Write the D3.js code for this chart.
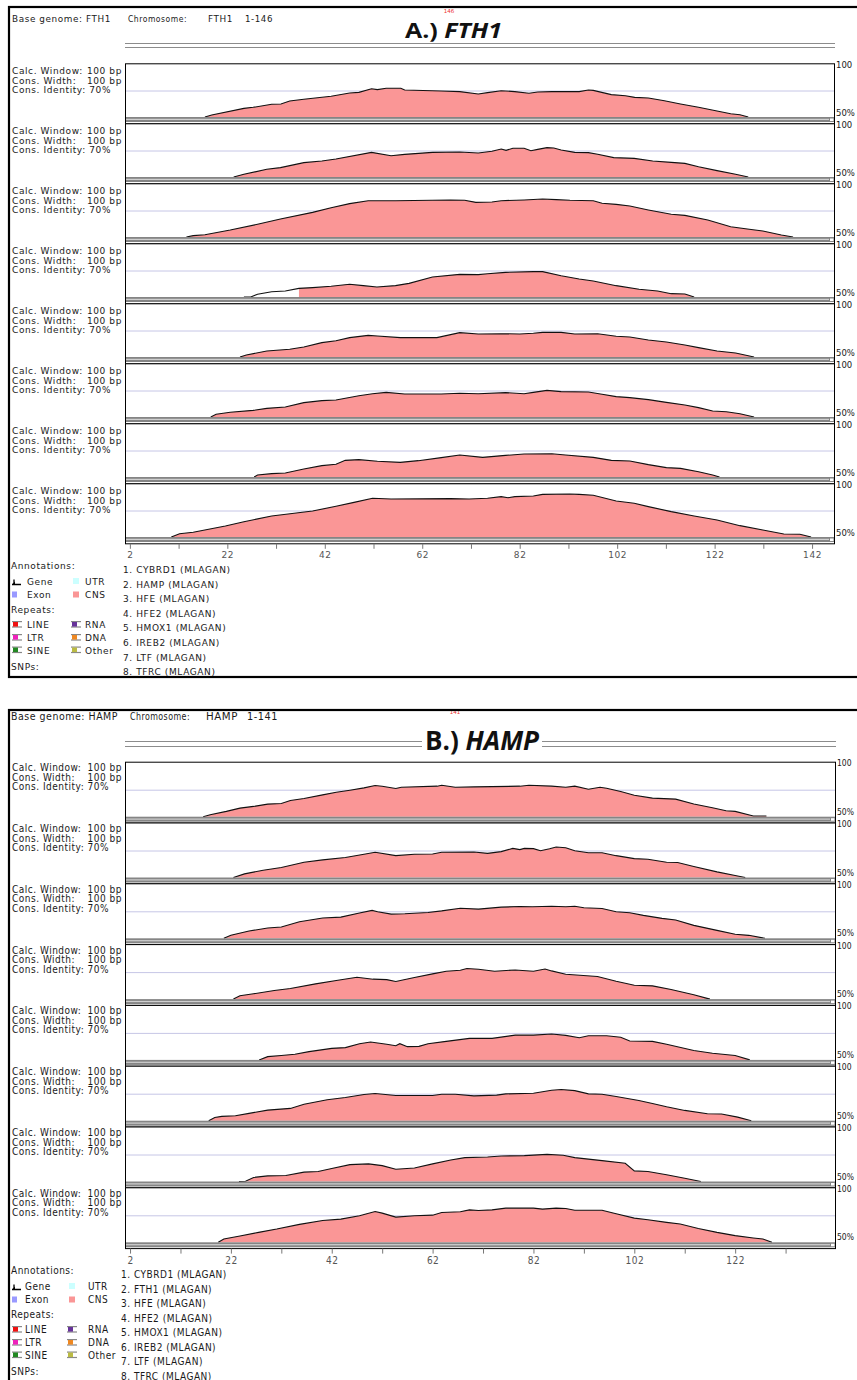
<!DOCTYPE html>
<html>
<head>
<meta charset="utf-8">
<script src="https://cdn.jsdelivr.net/npm/d3@7/dist/d3.min.js"></script>
<style>
  body { margin: 0; background: #fff; }
  svg { display: block; }
</style>
</head>
<body>
<svg id="chart" width="857" height="1380"></svg>
<script>
// ---------------------------------------------------------------
// VISTA conservation plots: percent identity (50–100 %) along the
// base sequence, one row per aligned gene (MLAGAN, 100 bp window).
// Each profile is a list of [position, % identity] pairs.
// ---------------------------------------------------------------

// ---- A.) FTH1 as base genome (1-146) ----
const fth1Partners = ["CYBRD1", "HAMP", "HFE", "HFE2", "HMOX1", "IREB2", "LTF", "TFRC"];

const fth1_CYBRD1 = [[17.4,50],[18.8,51.9],[25.4,58.3],[27.3,59.3],[31.1,62.2],[33.0,62.5],[34.8,65.4],[37.7,67.0],[43.3,69.9],[47.1,73.1],[49.0,73.7],[51.6,77.2],[52.8,76.3],[54.6,77.6],[57.6,77.6],[58.4,76.0],[65.9,75.0],[69.7,74.4],[73.5,72.1],[75.4,73.4],[78.2,75.3],[81.0,74.4],[83.9,72.8],[85.7,74.0],[88.6,74.4],[94.2,74.4],[96.1,76.0],[97.1,75.6],[100.8,71.5],[103.7,70.5],[105.6,68.9],[108.4,68.3],[111.7,65.7],[115.0,62.5],[118.7,59.3],[122.5,55.8],[125.3,53.2],[127.2,52.2],[128.9,50]];
const fth1_HAMP = [[23.3,50],[25.4,52.6],[30.1,57.4],[32.9,59.0],[37.7,63.8],[41.4,65.4],[44.3,67.3],[51.6,73.7],[55.6,70.5],[58.4,71.8],[64.1,73.7],[69.7,74.0],[73.5,73.1],[76.3,74.7],[78.2,76.9],[79.2,75.6],[80.6,77.6],[82.9,77.6],[84.3,75.3],[85.7,76.6],[87.6,78.2],[89.0,77.9],[90.5,76.0],[93.3,73.7],[96.1,73.4],[98.0,71.8],[101.3,68.6],[105.5,67.9],[109.3,65.4],[113.1,64.1],[115.9,63.1],[118.7,59.9],[122.5,56.1],[126.3,52.6],[128.9,50]];
const fth1_HFE = [[13.6,50],[15.0,51.3],[17.4,52.2],[22.6,56.7],[28.2,62.2],[32.9,67.3],[39.5,73.7],[43.3,78.2],[47.1,82.1],[50.9,84.9],[56.5,84.9],[67.8,85.6],[70.7,85.3],[73.0,83.3],[76.3,83.7],[78.2,84.9],[82.9,85.6],[86.7,86.5],[89.5,85.9],[92.3,85.3],[97.1,84.9],[98.9,82.4],[101.8,81.4],[104.6,79.8],[108.4,76.0],[113.1,71.8],[115.9,70.8],[120.6,66.3],[125.3,59.9],[129.1,57.4],[131.9,55.8],[135.7,51.9],[138.1,50]];
const fth1_HFE2 = [[25.4,50],[26.8,50],[28.2,52.6],[31.1,55.1],[33.9,55.8],[36.7,58.3],[39.5,59.0],[43.3,60.3],[47.1,62.2],[49.9,60.9],[52.7,59.6],[56.5,60.9],[59.3,63.1],[64.1,69.2],[69.7,71.8],[73.5,71.5],[75.4,72.4],[79.1,73.7],[84.8,74.4],[86.7,74.4],[90.5,70.5],[94.2,67.3],[97.1,65.4],[101.8,60.9],[106.5,57.4],[110.3,55.8],[113.1,53.2],[115.9,52.9],[117.8,50]];
const fth1_HMOX1 = [[24.6,50],[25.9,51.9],[30.1,55.8],[34.8,57.4],[37.7,59.6],[41.4,63.8],[44.3,65.7],[47.1,68.6],[50.9,70.8],[52.8,70.2],[57.5,68.6],[65.0,68.6],[69.7,73.4],[73.5,72.1],[78.2,72.4],[82.0,72.1],[84.8,72.8],[86.7,73.7],[90.5,73.7],[93.3,72.1],[98.0,72.4],[101.8,69.9],[104.6,69.2],[108.4,66.3],[112.1,64.4],[115.9,61.5],[118.7,59.0],[122.5,55.8],[126.3,53.8],[130.1,50]];
const fth1_IREB2 = [[18.6,50],[19.7,52.6],[22.6,54.5],[27.3,56.4],[30.1,58.3],[33.9,59.6],[37.7,63.8],[41.4,65.7],[44.3,66.3],[49.0,70.5],[51.8,72.4],[54.6,73.7],[58.4,72.1],[65.9,72.1],[69.7,72.8],[73.5,72.4],[79.1,73.4],[82.9,72.4],[84.8,73.7],[87.6,75.6],[90.5,74.4],[96.1,74.0],[98.9,71.8],[101.8,69.6],[104.6,68.6],[108.4,66.7],[112.1,64.1],[115.9,61.5],[118.7,59.0],[121.6,55.8],[124.4,55.1],[127.2,53.2],[130.1,50]];
const fth1_LTF = [[27.5,50],[28.2,51.9],[31.1,53.2],[33.9,53.8],[37.7,57.7],[41.4,60.9],[44.3,62.2],[46.2,66.0],[49.0,66.7],[52.8,65.1],[57.5,64.1],[61.2,65.7],[65.9,68.6],[69.7,71.2],[74.4,68.9],[79.1,70.8],[82.9,72.1],[88.6,72.4],[91.4,71.2],[97.1,68.9],[100.8,66.0],[104.6,65.4],[108.4,61.9],[112.1,59.0],[115.0,58.3],[118.7,55.1],[121.6,51.9],[123.0,50]];
const fth1_TFRC = [[10.5,50],[12.2,53.2],[15.0,54.5],[21.6,60.6],[25.4,64.7],[31.1,70.2],[39.5,75.0],[44.3,79.5],[48.0,83.3],[51.8,87.2],[55.6,86.5],[67.8,86.9],[71.6,86.5],[75.4,87.2],[78.2,88.8],[79.6,87.8],[81.0,88.8],[84.8,89.4],[86.7,91.0],[92.3,91.3],[94.2,91.0],[97.1,90.1],[101.8,84.6],[105.5,82.4],[108.4,79.2],[113.1,74.4],[117.8,70.2],[122.5,66.3],[127.2,60.9],[131.9,56.7],[136.2,52.9],[139.5,52.6],[141.8,50]];
// CNS shading begins at this position (null: shaded along the whole profile)
const fth1CnsFrom = [null, null, null, 36.7, null, null, null, null];

// ---- B.) HAMP as base genome (1-141) ----
const hampPartners = ["CYBRD1", "FTH1", "HFE", "HFE2", "HMOX1", "IREB2", "LTF", "TFRC"];

const hamp_CYBRD1 = [[16.5,50],[17.9,51.9],[21.1,55.0],[23.8,58.1],[26.5,59.7],[29.3,61.9],[32.0,62.5],[33.8,65.3],[36.5,67.2],[40.2,70.6],[42.9,73.1],[45.6,75.0],[48.4,77.2],[50.6,79.4],[52.0,78.8],[54.7,76.6],[55.8,77.8],[62.9,78.8],[63.8,79.7],[66.5,77.8],[70.2,78.1],[79.3,78.8],[81.1,79.7],[85.6,78.8],[88.4,77.8],[90.2,78.8],[92.9,75.9],[95.2,77.8],[96.5,76.9],[99.3,73.8],[102.0,70.3],[105.6,67.5],[110.2,66.6],[113.8,61.9],[117.5,58.4],[120.2,55.6],[122.0,55.0],[125.6,50.6],[128.2,50.6]];
const hamp_FTH1 = [[22.5,50],[24.7,53.4],[28.4,56.9],[32.0,59.4],[36.5,64.4],[40.2,66.6],[44.7,68.8],[48.4,71.9],[50.6,73.8],[54.7,70.6],[58.4,71.9],[62.0,72.2],[63.8,73.8],[70.2,74.1],[72.9,72.8],[75.6,74.4],[77.9,77.5],[79.3,76.3],[80.2,77.5],[82.0,77.2],[83.4,75.3],[85.2,77.2],[86.5,78.8],[88.4,78.1],[90.2,75.3],[92.9,73.4],[95.6,73.4],[98.4,70.6],[102.0,67.8],[104.7,67.2],[108.4,64.4],[110.6,64.1],[113.8,60.3],[118.4,55.3],[122.0,51.9],[124.0,50]];
const hamp_HFE = [[20.6,50],[22.0,52.8],[25.6,56.9],[29.3,59.7],[32.0,60.6],[35.6,65.6],[40.2,69.1],[43.8,70.0],[47.5,73.8],[50.0,76.3],[51.1,75.0],[53.8,72.8],[56.5,73.1],[61.1,74.4],[63.8,75.9],[67.5,78.4],[71.1,77.5],[75.6,79.4],[79.3,80.0],[81.8,79.7],[85.6,80.3],[88.4,79.7],[90.2,80.3],[92.0,78.8],[95.6,78.1],[98.4,75.0],[101.1,74.1],[103.8,71.6],[107.5,68.8],[110.2,67.2],[113.8,62.2],[118.4,57.5],[122.0,53.8],[124.7,52.8],[127.9,50]];
const hamp_HFE2 = [[22.5,50],[23.8,53.1],[26.5,55.0],[30.6,58.1],[33.8,60.0],[38.8,64.4],[42.9,67.5],[47.0,70.6],[50.2,68.8],[52.9,68.4],[54.7,66.6],[58.4,70.3],[62.0,73.8],[64.7,76.3],[67.5,77.2],[68.8,78.8],[71.1,78.1],[74.3,76.3],[78.4,77.5],[82.0,76.3],[84.3,78.4],[85.6,76.6],[88.4,73.4],[94.7,71.3],[98.4,66.9],[102.0,63.1],[105.6,62.5],[109.3,59.1],[113.8,54.1],[117.0,50]];
const hamp_HMOX1 = [[27.6,50],[29.3,53.1],[32.0,54.1],[34.7,55.3],[37.5,57.8],[42.0,60.9],[44.7,61.6],[47.5,65.3],[49.7,66.9],[52.9,64.7],[54.7,63.4],[55.5,65.3],[57.0,62.5],[59.3,62.8],[61.1,65.3],[64.7,67.5],[69.3,70.3],[73.8,70.3],[78.4,73.4],[82.0,73.4],[85.6,74.4],[88.4,73.1],[91.1,70.9],[92.9,72.8],[96.5,72.8],[99.3,71.3],[101.1,67.8],[105.6,67.5],[108.4,64.7],[113.8,58.8],[117.5,56.3],[122.0,54.1],[124.9,50]];
const hamp_IREB2 = [[17.6,50],[18.8,53.1],[20.2,54.1],[22.9,54.7],[25.6,56.9],[29.3,60.0],[33.8,61.6],[36.5,65.6],[41.1,69.7],[44.7,71.9],[48.4,74.7],[50.6,75.6],[54.7,73.8],[62.0,73.8],[63.8,75.0],[66.5,75.0],[70.2,73.4],[74.7,74.1],[76.5,75.3],[82.0,75.9],[85.6,78.8],[87.5,79.4],[90.2,78.4],[92.9,75.3],[95.6,75.0],[98.4,72.8],[102.9,69.1],[105.6,66.3],[108.4,63.1],[112.0,59.7],[116.5,56.6],[119.3,56.3],[122.5,53.4],[125.2,50]];
const hamp_LTF = [[23.6,50],[24.9,50.3],[26.5,53.8],[29.3,55.3],[32.9,55.6],[36.5,58.8],[39.3,59.4],[42.0,62.2],[45.6,65.9],[49.3,66.6],[52.0,65.0],[54.7,61.6],[58.4,62.8],[62.0,66.6],[65.6,70.3],[68.4,72.5],[72.9,73.1],[75.6,74.1],[80.2,74.4],[84.7,75.6],[87.9,74.7],[90.2,72.5],[95.6,69.7],[100.2,67.2],[102.0,60.0],[104.7,59.4],[108.4,56.3],[112.0,53.1],[115.2,50]];
const hamp_TFRC = [[19.5,50],[20.6,53.1],[23.8,55.9],[27.5,59.4],[31.1,62.5],[35.6,66.9],[40.2,70.6],[43.8,71.9],[47.5,75.0],[50.6,79.1],[52.0,77.5],[54.7,73.8],[58.4,75.0],[62.0,75.6],[63.8,78.1],[67.5,78.8],[69.3,80.6],[71.1,80.0],[73.8,80.6],[76.5,82.2],[82.0,82.2],[83.8,81.3],[86.5,82.2],[88.4,81.9],[90.2,80.3],[95.6,80.3],[98.4,76.9],[102.0,72.8],[104.7,71.3],[108.4,68.8],[111.1,67.2],[114.7,63.1],[118.4,59.4],[122.0,56.3],[125.6,54.1],[127.5,53.1],[129.3,50]];
const hampCnsFrom = [null, null, null, null, null, null, null, null];

// ---- position axes ----
const fth1Ticks = [2, 12, 22, 32, 42, 52, 62, 72, 82, 92, 102, 112, 122, 132, 142];
const fth1TickLabels = [2, 22, 42, 62, 82, 102, 122, 142];
const hampTicks = [2, 12, 22, 32, 42, 52, 62, 72, 82, 92, 102, 112, 122, 132];
const hampTickLabels = [2, 22, 42, 62, 82, 102, 122];

// ---- legend ----
const annotationKeys = [["Gene", "gene"], ["UTR", "#ccffff"], ["Exon", "#9999ff"], ["CNS", "#fa9696"]];
const repeatKeys = [["LINE", "#ee1111"], ["RNA", "#663399"], ["LTR", "#ee22bb"], ["DNA", "#ee8822"], ["SINE", "#228822"], ["Other", "#bbbb44"]];

// ---------------------------------------------------------------
const svg = d3.select("#chart");
const CNS_FILL = "#fa9696";

function drawPanel(o) {
  const g = svg.append("g");
  const left = 125, right = o.right;
  const x = d3.scaleLinear().domain(o.domain).range([left, right]);

  const txt = (parent, xx, yy, s, anchor) => parent.append("text")
    .attr("x", xx).attr("y", yy).text(s)
    .attr("text-anchor", anchor || "start")
    .attr("font-family", o.font).attr("font-size", o.fs)
    .style("letter-spacing", o.ls + "px")
    .attr("fill", "#1a1a1a");

  // header line
  o.header.forEach(([hx, s, w]) => txt(g, hx, o.headerY, s)
    .attr("textLength", w).attr("lengthAdjust", "spacingAndGlyphs"));

  // small red sequence-length marker
  g.append("text").attr("x", o.mark.x).attr("y", o.mark.y).attr("text-anchor", "middle")
    .attr("font-family", "'DejaVu Sans', sans-serif").attr("font-size", 5.5)
    .attr("fill", "#ee3333").text(o.mark.text);

  // double rule under the header
  o.rulesY.forEach(ry => g.append("line")
    .attr("x1", left).attr("x2", right + 1).attr("y1", ry).attr("y2", ry)
    .attr("stroke", "#8c8c8c").attr("stroke-width", 1.2));

  // panel title
  if (o.title.clear) {
    g.append("rect").attr("x", o.title.x - 3).attr("y", o.title.y - o.title.size * 0.74)
      .attr("width", o.title.w + 6).attr("height", o.title.size * 0.9).attr("fill", "#fff");
  }
  const t = g.append("text").attr("x", o.title.x).attr("y", o.title.y)
    .attr("font-family", "'Open Sans', 'Liberation Sans', sans-serif")
    .attr("font-weight", 700).attr("font-size", o.title.size)
    .attr("textLength", o.title.w).attr("lengthAdjust", "spacingAndGlyphs")
    .attr("fill", "#111");
  t.append("tspan").text(o.title.prefix);
  t.append("tspan").attr("font-style", "italic").text(o.title.gene);

  // conservation tracks
  o.profiles.forEach((prof, i) => {
    const top = o.trackTop + i * o.step;
    const y = d3.scaleLinear().domain([50, 100]).range([top + o.baseOff, top + o.fullOff]);
    const tg = g.append("g");

    tg.append("rect").attr("x", left + 0.5).attr("y", top + 0.5)
      .attr("width", right - left).attr("height", o.step)
      .attr("fill", "#fff").attr("stroke", "#000").attr("stroke-width", 1);

    // 75 % reference line
    tg.append("line").attr("x1", left + 1).attr("x2", right)
      .attr("y1", y(75)).attr("y2", y(75))
      .attr("stroke", "#c6c6e6").attr("stroke-width", 1);

    // shaded conserved region
    const clipId = o.id + "clip" + i;
    const from = o.cnsFrom[i];
    tg.append("clipPath").attr("id", clipId).append("rect")
      .attr("x", from == null ? left : x(from)).attr("y", top)
      .attr("width", right - (from == null ? left : x(from))).attr("height", o.step);

    const area = d3.area().x(d => x(d[0])).y0(y(50)).y1(d => y(d[1]));
    tg.append("path").datum(prof).attr("d", area)
      .attr("fill", CNS_FILL).attr("clip-path", `url(#${clipId})`);

    const line = d3.line().x(d => x(d[0])).y(d => y(d[1]));
    tg.append("path").datum(prof).attr("d", line)
      .attr("fill", "none").attr("stroke", "#111").attr("stroke-width", 1.1);

    // sequence bar at the bottom of the row
    const by = y(50);
    tg.append("rect").attr("x", left + 1).attr("y", by).attr("width", right - left - 1)
      .attr("height", 5).attr("fill", "#858585");
    tg.append("rect").attr("x", left + 1).attr("y", by + 1.8).attr("width", right - left - 6)
      .attr("height", 1.2).attr("fill", "#cfcfcf");
    tg.append("rect").attr("x", right - 4).attr("y", by + 1.5).attr("width", 3.5)
      .attr("height", 2.5).attr("fill", "#fff");

    // parameter labels
    txt(tg, 12, top + o.lab[0], "Calc. Window:");
    txt(tg, 122, top + o.lab[0], "100 bp", "end");
    txt(tg, 12, top + o.lab[1], "Cons. Width:");
    txt(tg, 122, top + o.lab[1], "100 bp", "end");
    txt(tg, 12, top + o.lab[2], "Cons. Identity: 70%");

    // identity scale labels
    txt(tg, right + 2, top + 4.5, "100").attr("font-size", 8.5).style("letter-spacing", "0px");
    txt(tg, right + 2, top + 53, "50%").attr("font-size", 8.5).style("letter-spacing", "0px");
  });

  // position axis
  const axisY = o.trackTop + o.profiles.length * o.step + 0.5;
  const axis = d3.axisBottom(x).tickValues(o.ticks).tickSize(5).tickPadding(3)
    .tickFormat(d => o.tickLabels.includes(d) ? d : "");
  const ag = g.append("g").attr("transform", `translate(0,${axisY})`).call(axis);
  ag.select(".domain").remove();
  ag.selectAll("line").attr("stroke", "#777");
  ag.selectAll("text").attr("font-family", o.font).attr("font-size", o.fs)
    .style("letter-spacing", o.ls + "px").attr("fill", "#555");

  // partner list
  o.partners.forEach((p, i) =>
    txt(g, o.listX, o.legendY + i * o.listGap, `${i + 1}. ${p} (MLAGAN)`));

  // legend
  const L = o.legendY, c1 = 12, c2 = o.col2;
  txt(g, 11, L - 4, "Annotations:");
  // gene glyph
  g.append("path")
    .attr("d", `M${c1},${L + 11.5} H${c1 + 9} M${c1 + 2},${L + 11.5} V${L + 6.5}`)
    .attr("stroke", "#000").attr("stroke-width", 1.3).attr("fill", "none");
  g.append("path").attr("d", `M${c1},${L + 11.5} L${c1 + 3},${L + 8.5} L${c1 + 3},${L + 11.5}Z`).attr("fill", "#000");
  txt(g, o.col1t, L + 12, annotationKeys[0][0]);
  g.append("rect").attr("x", c2).attr("y", L + 5).attr("width", 6).attr("height", 6).attr("fill", annotationKeys[1][1]);
  txt(g, o.col2t, L + 12, annotationKeys[1][0]);
  g.append("rect").attr("x", c1).attr("y", L + 18.5).attr("width", 5).attr("height", 6).attr("fill", annotationKeys[2][1]);
  txt(g, o.col1t, L + 24.5, annotationKeys[2][0]);
  g.append("rect").attr("x", c2).attr("y", L + 18.5).attr("width", 6).attr("height", 6).attr("fill", annotationKeys[3][1]);
  txt(g, o.col2t, L + 24.5, annotationKeys[3][0]);

  txt(g, 11, L + 40, "Repeats:");
  const rowY = [L + 55, L + 68, L + 80.5];
  repeatKeys.forEach(([name, col], k) => {
    const ry = rowY[Math.floor(k / 2)];
    const gx = k % 2 === 0 ? c1 : c2 - 2;
    const ig = g.append("g");
    ig.append("rect").attr("x", gx).attr("y", ry - 7).attr("width", 10).attr("height", 1.2).attr("fill", "#888");
    ig.append("rect").attr("x", gx).attr("y", ry - 1.6).attr("width", 10).attr("height", 1.2).attr("fill", "#888");
    ig.append("rect").attr("x", gx + 1).attr("y", ry - 6).attr("width", 5).attr("height", 4.6).attr("fill", col);
    txt(g, k % 2 === 0 ? o.col1t : o.col2t, ry, name);
  });
  txt(g, 11, L + 97, "SNPs:");

  // outer frame
  g.append("rect").attr("x", 9).attr("y", o.frameTop).attr("width", 900).attr("height", o.frameH)
    .attr("fill", "none").attr("stroke", "#000").attr("stroke-width", 2.2);
}

// A.) FTH1
drawPanel({
  id: "a",
  frameTop: 7, frameH: 670,
  header: [[12, "Base genome: FTH1", 99], [128, "Chromosome:", 59], [208, "FTH1", 25], [245, "1-146", 28]],
  headerY: 22,
  mark: { x: 449, y: 12.5, text: "146" },
  rulesY: [43.5, 47.5],
  title: { x: 405, y: 38, w: 97, size: 22, prefix: "A.) ", gene: "FTH1", clear: false },
  domain: [1, 146.5], right: 834,
  trackTop: 63.3, step: 60, baseOff: 53.7, fullOff: 1.7,
  lab: [11, 20.5, 30],
  profiles: [fth1_CYBRD1, fth1_HAMP, fth1_HFE, fth1_HFE2, fth1_HMOX1, fth1_IREB2, fth1_LTF, fth1_TFRC],
  cnsFrom: fth1CnsFrom,
  partners: fth1Partners,
  ticks: fth1Ticks, tickLabels: fth1TickLabels,
  legendY: 573, listGap: 14.6, listX: 123,
  col1t: 27, col2: 73, col2t: 85,
  font: "'DejaVu Sans', Verdana, sans-serif", fs: 9, ls: 0.6
});

// B.) HAMP
drawPanel({
  id: "b",
  frameTop: 710, frameH: 700,
  header: [[11, "Base genome: HAMP", 107], [130, "Chromosome:", 60], [206, "HAMP", 32], [247, "1-141", 31]],
  headerY: 720,
  mark: { x: 455, y: 713.5, text: "141" },
  rulesY: [741.5, 746.5],
  title: { x: 425, y: 750, w: 114, size: 26, prefix: "B.) ", gene: "HAMP", clear: true },
  domain: [1, 141.8], right: 835,
  trackTop: 761.7, step: 60.8, baseOff: 55, fullOff: 2,
  lab: [9.5, 19, 28.5],
  profiles: [hamp_CYBRD1, hamp_FTH1, hamp_HFE, hamp_HFE2, hamp_HMOX1, hamp_IREB2, hamp_LTF, hamp_TFRC],
  cnsFrom: hampCnsFrom,
  partners: hampPartners,
  ticks: hampTicks, tickLabels: hampTickLabels,
  legendY: 1278, listGap: 14.5, listX: 121,
  col1t: 25, col2: 69, col2t: 88,
  font: "'DejaVu Sans Condensed', 'Liberation Sans Narrow', 'DejaVu Sans', sans-serif", fs: 10, ls: 0.5
});
</script>
</body>
</html>
